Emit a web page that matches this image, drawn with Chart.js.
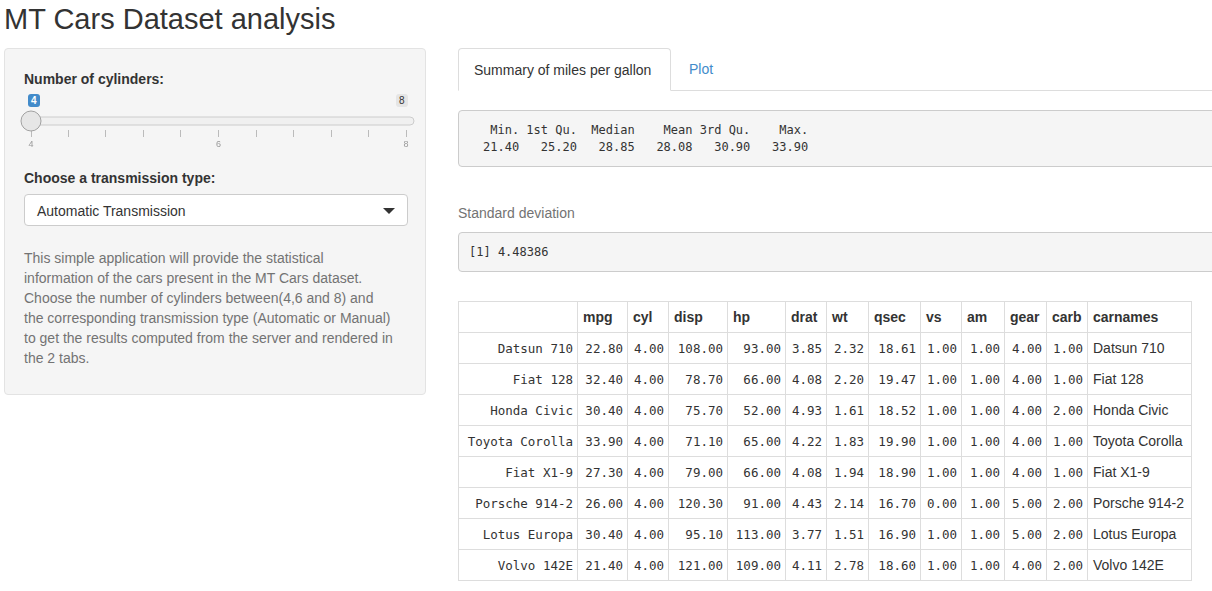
<!DOCTYPE html>
<html>
<head>
<meta charset="utf-8">
<script src="https://cdn.jsdelivr.net/npm/chart.js@4"></script>
<style>
body { margin:0; font-family:"Liberation Sans", Arial, sans-serif; color:#333; font-size:14px; background:#fff; width:1212px; height:591px; overflow:hidden; position:relative; }
h2 { position:absolute; left:4px; top:3px; margin:0; font-weight:normal; font-size:29px; }
#side { position:absolute; left:4px; top:48px; width:422px; height:347px; background:#f5f5f5; border:1px solid #e3e3e3; border-radius:4px; box-sizing:border-box; }
.lbl { position:absolute; left:19px; font-weight:bold; font-size:14px; }
#sliderWrap { position:absolute; left:12px; top:52px; width:400px; height:50px; }
.badge { position:absolute; font-size:10px; padding:1px 3px; border-radius:3px; top:45px; }
#select { position:absolute; left:19px; top:145px; width:384px; height:32px; border:1px solid #ccc; background:#fff; border-radius:4px; box-sizing:border-box; padding:8px 12px; font-size:14px; }
#select:after { content:""; position:absolute; right:12px; top:13px; border-left:6px solid transparent; border-right:6px solid transparent; border-top:6px solid #333; }
#help { position:absolute; left:19px; top:199px; width:372px; color:#737373; font-size:14px; line-height:20px; }
#tabs { position:absolute; left:458px; top:48px; width:754px; height:42px; border-bottom:1px solid #ddd; }
.tab { position:absolute; top:0; height:42px; box-sizing:border-box; padding:13px 15px; font-size:14px; }
pre { position:absolute; left:458px; width:760px; margin:0; background:#f5f5f5; border:1px solid #ccc; border-radius:4px; box-sizing:border-box; font-family:"DejaVu Sans Mono", monospace; font-size:12px; padding:10px; line-height:17px; color:#333; }
table { position:absolute; left:458px; top:301px; border-collapse:collapse; font-size:14px; white-space:nowrap; }
td, th { border:1px solid #ddd; height:31px; padding:0 5px; box-sizing:border-box; }
th { text-align:left; }
td.mono { font-family:"DejaVu Sans Mono", monospace; font-size:12.5px; text-align:right; padding:0 4px; }
</style>
</head>
<body>
<h2>MT Cars Dataset analysis</h2>
<div id="side">
  <div class="lbl" style="top:22px">Number of cylinders:</div>
  <div id="sliderWrap"><canvas id="slider"></canvas></div>
  <div class="badge" style="left:23px;background:#428bca;color:#fff;font-weight:bold">4</div>
  <div class="badge" style="left:391px;background:#e5e5e5;color:#333">8</div>
  <div class="lbl" style="top:121px">Choose a transmission type:</div>
  <div id="select">Automatic Transmission</div>
  <div id="help">This simple application will provide the statistical information of the cars present in the MT Cars dataset. Choose the number of cylinders between(4,6 and 8) and the corresponding transmission type (Automatic or Manual) to get the results computed from the server and rendered in the 2 tabs.</div>
</div>
<div id="tabs">
  <div class="tab" style="left:0;width:213px;border:1px solid #ddd;border-bottom-color:#fff;border-radius:4px 4px 0 0;background:#fff;height:43px">Summary of miles per gallon</div>
  <div class="tab" style="left:216px;color:#428bca">Plot</div>
</div>
<pre id="summary" style="top:110px;height:57px;padding-left:24px;padding-top:11px"></pre>
<div style="position:absolute;left:458px;top:205px;color:#737373;font-size:14px">Standard deviation</div>
<pre id="sd" style="top:232px;height:40px;padding-top:11px"></pre>
<table id="tbl"></table>
<script>
const summaryLabels = ['Min.', '1st Qu.', 'Median', 'Mean', '3rd Qu.', 'Max.'];
const summaryValues = ['21.40', '25.20', '28.85', '28.08', '30.90', '33.90'];
const sdValue = '4.48386';
const columns = ['mpg', 'cyl', 'disp', 'hp', 'drat', 'wt', 'qsec', 'vs', 'am', 'gear', 'carb', 'carnames'];
const colWidths = [119, 50, 41, 59, 58, 41, 42, 52, 41, 43, 42, 41, 104];
const cars = ['Datsun 710', 'Fiat 128', 'Honda Civic', 'Toyota Corolla', 'Fiat X1-9', 'Porsche 914-2', 'Lotus Europa', 'Volvo 142E'];
const mpg = [22.8, 32.4, 30.4, 33.9, 27.3, 26.0, 30.4, 21.4];
const cyl = [4, 4, 4, 4, 4, 4, 4, 4];
const disp = [108.0, 78.7, 75.7, 71.1, 79.0, 120.3, 95.1, 121.0];
const hp = [93, 66, 52, 65, 66, 91, 113, 109];
const drat = [3.85, 4.08, 4.93, 4.22, 4.08, 4.43, 3.77, 4.11];
const wt = [2.32, 2.20, 1.61, 1.83, 1.94, 2.14, 1.51, 2.78];
const qsec = [18.61, 19.47, 18.52, 19.90, 18.90, 16.70, 16.90, 18.60];
const vs = [1, 1, 1, 1, 1, 0, 1, 1];
const am = [1, 1, 1, 1, 1, 1, 1, 1];
const gear = [4, 4, 4, 4, 4, 5, 5, 4];
const carb = [1, 1, 2, 1, 1, 2, 2, 2];
const sliderTicks = [4, 4.4, 4.8, 5.2, 5.6, 6, 6.4, 6.8, 7.2, 7.6, 8];
const sliderValue = 4;

// summary text, R style
const pad = (s, n) => s.padStart(n);
document.getElementById('summary').textContent =
    summaryLabels.map((l, i) => pad(l, i == 0 ? 5 : 8)).join('') + '\n' +
    summaryValues.map((v, i) => pad(v, i == 0 ? 5 : 8)).join('');
document.getElementById('sd').textContent = '[1] ' + sdValue;

// table
const tbl = document.getElementById('tbl');
let head = '<tr><th style="width:' + colWidths[0] + 'px"></th>';
columns.forEach((c, i) => head += '<th style="width:' + colWidths[i + 1] + 'px">' + c + '</th>');
tbl.innerHTML = head + '</tr>';
const numeric = [mpg, cyl, disp, hp, drat, wt, qsec, vs, am, gear, carb];
cars.forEach((car, r) => {
    let tr = '<tr><td class="mono">' + car + '</td>';
    numeric.forEach(arr => tr += '<td class="mono">' + arr[r].toFixed(2) + '</td>');
    tr += '<td>' + car + '</td></tr>';
    tbl.innerHTML += tr;
});

// slider drawn as a scatter chart
const trackPlugin = {
    id: 'track',
    beforeDatasetsDraw(chart) {
        const { ctx, chartArea, scales } = chart;
        const y = scales.y.getPixelForValue(0);
        ctx.save();
        ctx.fillStyle = '#f0f0f0';
        ctx.strokeStyle = '#cccccc';
        ctx.beginPath();
        ctx.roundRect(chartArea.left - 8, y - 4, chartArea.width + 16, 8, 4);
        ctx.fill(); ctx.stroke();
        ctx.restore();
    }
};
new Chart(document.getElementById('slider'), {
    type: 'scatter',
    data: { datasets: [{ data: [{ x: sliderValue, y: 0 }], clip: false, pointRadius: 10, pointBackgroundColor: '#e6e6e6', pointBorderColor: '#a0a0a0', pointBorderWidth: 1 }] },
    options: {
        responsive: true, maintainAspectRatio: false, animation: false,
        layout: { padding: { left: 14, right: 10, top: 8 } },
        plugins: { legend: { display: false }, tooltip: { enabled: false } },
        scales: {
            x: {
                type: 'linear', min: 4, max: 8,
                afterBuildTicks: axis => { axis.ticks = sliderTicks.map(v => ({ value: v })); },
                border: { display: false },
                grid: { drawOnChartArea: false, tickLength: 7, color: '#bbb' },
                ticks: { color: '#999', font: { size: 9 }, padding: 2, maxRotation: 0, autoSkip: false, callback: v => (v == 4 || v == 6 || v == 8) ? v : '' }
            },
            y: { min: -1, max: 1, display: false }
        }
    },
    plugins: [trackPlugin]
});
</script>
</body>
</html>
